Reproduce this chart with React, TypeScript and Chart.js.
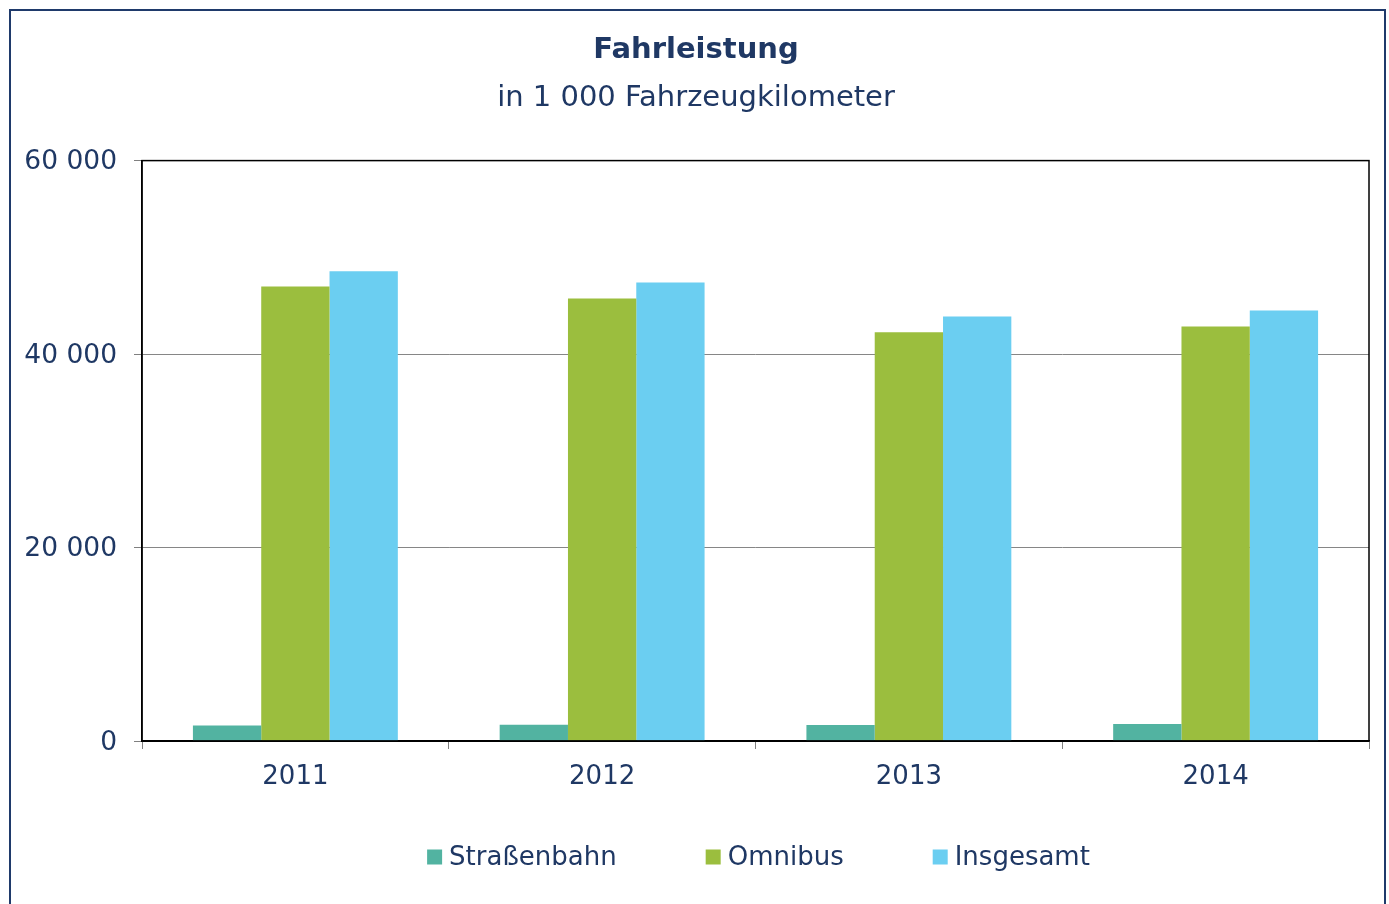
import React, { useEffect, useRef } from "react";
import { Chart, registerables } from "chart.js";

Chart.register(...registerables);

const categories = ["2011", "2012", "2013", "2014"];
const strassenbahn = [1590, 1690, 1650, 1750];
const omnibus = [46980, 45740, 42260, 42850];
const insgesamt = [48560, 47390, 43880, 44500];
const seriesNames = ["Straßenbahn", "Omnibus", "Insgesamt"];
const seriesColors = ["#52B3A1", "#9BBE3E", "#6BCEF1"];
const yTicks = [0, 20000, 40000, 60000];
const titleText = "Fahrleistung";
const subtitleText = "in 1 000 Fahrzeugkilometer";

const NAVY = "#1F3864";
const FONT = "'DejaVu Sans', Verdana, sans-serif";

const fmt = (v: number) => String(v).replace(/\B(?=(\d{3})+(?!\d))/g, " ");

const framePlugin = {
  id: "frame",
  beforeDraw(chart: any) {
    const ctx = chart.ctx;
    ctx.save();
    ctx.strokeStyle = "#1F3A6B";
    ctx.lineWidth = 2;
    ctx.strokeRect(10, 10, 1375, 1000);
    ctx.restore();
  },
  afterDatasetsDraw(chart: any) {
    const { ctx, chartArea } = chart;
    ctx.save();
    ctx.strokeStyle = "#000";
    ctx.lineWidth = 1.5;
    ctx.strokeRect(chartArea.left, chartArea.top, chartArea.right - chartArea.left, chartArea.bottom - chartArea.top);
    ctx.restore();
  },
  afterDraw(chart: any) {
    const { ctx, chartArea } = chart;
    ctx.save();
    ctx.font = `26px ${FONT}`;
    ctx.textBaseline = "middle";
    const box = 15;
    const textGap = 7;
    const itemGap = 89;
    const items = chart.data.datasets.map((d: any) => ({
      label: d.label,
      color: d.backgroundColor,
      w: box + textGap + ctx.measureText(d.label).width,
    }));
    const total = items.reduce((s: number, it: any) => s + it.w, 0) + itemGap * (items.length - 1);
    const cx = (chartArea.left + chartArea.right) / 2 + 3;
    let x = cx - total / 2;
    const y = chartArea.bottom + 116;
    items.forEach((it: any) => {
      ctx.fillStyle = it.color;
      ctx.fillRect(x, y - box / 2, box, box);
      ctx.fillStyle = NAVY;
      ctx.textAlign = "left";
      ctx.fillText(it.label, x + box + textGap, y + 1);
      x += it.w + itemGap;
    });
    ctx.restore();
  },
};

export default function App() {
  const ref = useRef<HTMLCanvasElement | null>(null);

  useEffect(() => {
    if (!ref.current) return;
    const chart = new Chart(ref.current, {
      type: "bar",
      data: {
        labels: categories,
        datasets: [
          { label: seriesNames[0], data: strassenbahn, backgroundColor: seriesColors[0] },
          { label: seriesNames[1], data: omnibus, backgroundColor: seriesColors[1] },
          { label: seriesNames[2], data: insgesamt, backgroundColor: seriesColors[2] },
        ],
      },
      options: {
        animation: false,
        responsive: false,
        maintainAspectRatio: false,
        layout: { padding: { left: 23, right: 20, top: 0, bottom: 113 } },
        datasets: { bar: { categoryPercentage: 0.668, barPercentage: 1 } },
        plugins: {
          legend: { display: false },
          tooltip: { enabled: false },
          title: {
            display: true,
            text: titleText,
            color: NAVY,
            font: { family: FONT, size: 29, weight: "bold" },
            padding: { top: 33, bottom: 1 },
          },
          subtitle: {
            display: true,
            text: subtitleText,
            color: NAVY,
            font: { family: FONT, size: 29, weight: "normal" },
            padding: { top: 12, bottom: 45 },
          },
        },
        scales: {
          x: {
            offset: true,
            grid: {
              offset: true,
              drawOnChartArea: false,
              drawTicks: true,
              tickLength: 8,
              color: "#808080",
            },
            border: { color: "#000", width: 1.5 },
            ticks: {
              color: NAVY,
              font: { family: FONT, size: 26 },
              padding: 13,
              maxRotation: 0,
            },
            afterFit: (s: any) => {
              s.height = 50;
            },
          },
          y: {
            min: 0,
            max: 60000,
            afterBuildTicks: (s: any) => {
              s.ticks = yTicks.map((v) => ({ value: v }));
            },
            grid: {
              color: (c: any) => (c.tick && (c.tick.value === 0 || c.tick.value === 60000) ? "#000" : "#868686"),
              tickColor: "#808080",
              tickLength: 8,
              lineWidth: 1,
            },
            border: { color: "#000", width: 1.5 },
            ticks: {
              color: NAVY,
              font: { family: FONT, size: 26.5 },
              padding: 17,
              labelOffset: 2,
              callback: (v: any) => fmt(Number(v)),
            },
            afterFit: (s: any) => {
              s.width = 119;
            },
          },
        },
      },
      plugins: [framePlugin],
    });
    return () => chart.destroy();
  }, []);

  return (
    <div style={{ position: "fixed", left: 0, top: 0, width: 1389, height: 904, background: "#fff" }}>
      <canvas ref={ref} width={1389} height={904} style={{ display: "block", width: 1389, height: 904 }} />
    </div>
  );
}
